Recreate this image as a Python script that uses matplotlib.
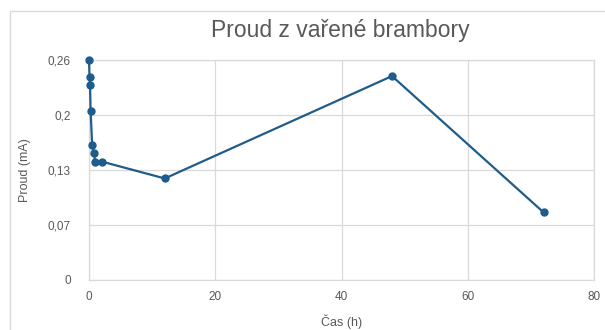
import matplotlib
matplotlib.use("Agg")
import matplotlib.pyplot as plt
from matplotlib.patches import Rectangle

# data
cas_h = [0, 0.083, 0.167, 0.25, 0.5, 0.75, 1, 2, 12, 48, 72]
proud_ma = [0.26, 0.240, 0.231, 0.200, 0.160, 0.150, 0.140, 0.140, 0.120, 0.241, 0.080]

y_ticks = [0, 0.065, 0.13, 0.195, 0.26]
y_labels = ["0", "0,07", "0,13", "0,2", "0,26"]
x_ticks = [0, 20, 40, 60, 80]

plt.rcParams['font.family'] = ['Liberation Sans', 'DejaVu Sans']
text_col = '#595959'
grid_col = '#d9d9d9'
line_col = '#1f5c8a'

fig = plt.figure(figsize=(6.05, 3.30), dpi=100)
ax = fig.add_axes([89 / 605, 50 / 330, (594 - 89) / 605, (280 - 60) / 330])

# outer chart border (Excel style)
fig.patches.append(Rectangle((10 / 605, -0.1), 1.2, 1.1 - 11 / 330,
                             transform=fig.transFigure, fill=False,
                             edgecolor='#d9d9d9', linewidth=1.0))

ax.plot(cas_h, proud_ma, color=line_col, linewidth=1.6, marker='o',
        markersize=5, zorder=3, clip_on=False)

ax.set_xlim(0, 80)
ax.set_ylim(0, 0.26)
ax.set_xticks(x_ticks)
ax.set_yticks(y_ticks)
ax.set_yticklabels(y_labels)
ax.grid(True, color=grid_col, linewidth=0.9)
ax.set_axisbelow(True)
for s in ax.spines.values():
    s.set_color(grid_col)
    s.set_linewidth(0.9)
ax.tick_params(length=0, labelsize=8.5, colors=text_col)
ax.tick_params(axis='y', pad=13)
ax.tick_params(axis='x', pad=8)

ax.set_xlabel("Čas (h)", fontsize=9, color=text_col, labelpad=8)
ax.set_ylabel("Proud (mA)", fontsize=9, color=text_col, labelpad=12)
fig.text(340 / 605, 1 - 30 / 330, "Proud z vařené brambory", ha='center',
         va='center', fontsize=16.5, color=text_col)

fig.savefig("out.png", dpi=100)
